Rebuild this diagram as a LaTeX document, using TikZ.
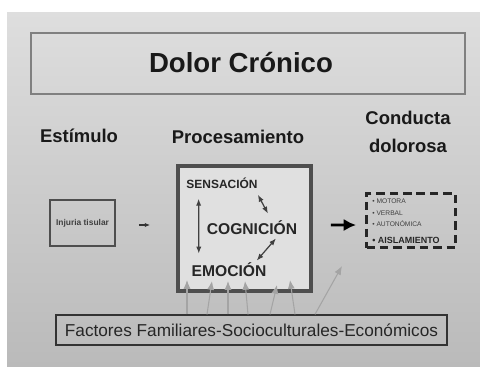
\documentclass[tikz,border=0pt]{standalone}
\usepackage{fontspec}
\setmainfont{Liberation Sans}
\usetikzlibrary{arrows.meta, calc}
\definecolor{bgtop}{HTML}{DEDEDE}
\definecolor{bgbot}{HTML}{BABABA}
\definecolor{framegray}{HTML}{4E4E4E}
\definecolor{boxfill}{HTML}{E0E0E0}
\definecolor{inflgray}{HTML}{A4A4A4}

\begin{document}
\begin{tikzpicture}[x=0.02cm, y=-0.02cm,
    heading/.style={font=\fontsize{10.5}{16}\selectfont\bfseries, inner sep=0pt, text=black!90},
    label/.style={font=\fontsize{8.9}{10}\selectfont\bfseries, inner sep=0pt, text=black!85},
    item/.style={font=\fontsize{3.8}{5}\selectfont, inner sep=0pt, anchor=west, text=black!75},
    rel/.style={<->, >={Latex[length=4pt,width=3pt]}, line width=0.7pt, black!75},
    infl/.style={->, >={Latex[length=5pt,width=4pt]}, line width=0.6pt, inflgray}]

    % Draw the slide background
    \useasboundingbox (0,0) rectangle (480,366);
    \fill[white] (0,0) rectangle (480,366);
    \shade[top color=bgtop, bottom color=bgbot] (7,12) rectangle (480,366);

    % Draw the title
    \draw[gray, line width=0.6pt] (31,33) rectangle (465,94);
    \node[font=\fontsize{15.7}{19}\selectfont\bfseries, text=black!90] (title) at (241,63) {Dolor Crónico};

    % Column headings
    \node[heading] (stim) at (79,136) {Estímulo};
    \node[heading] (proch) at (238,137) {Procesamiento};
    \node[heading, align=center] (condh) at (408,132) {Conducta\\dolorosa};

    % Draw the boxes
    \node[draw=framegray, line width=1.1pt, minimum width=1.18cm, minimum height=0.92cm,
          font=\fontsize{4.8}{6}\selectfont\bfseries, text=black!75] (inj) at (82.5,223) {Injuria tisular};
    \node[draw=framegray, fill=boxfill, line width=2.2pt, minimum width=2.66cm, minimum height=2.5cm] (proc) at (244.5,228.5) {};
    \node[draw=black!85, dash pattern=on 4.8pt off 2.8pt, line width=1.7pt, minimum width=1.78cm, minimum height=1.08cm] (cond) at (411,220.5) {};
    \node[draw=black!80, line width=0.8pt, minimum width=7.82cm, minimum height=0.6cm,
          font=\fontsize{9.8}{12}\selectfont, text=black!85] (fac) at (251.5,330) {Factores Familiares-Socioculturales-Económicos};

    % Processing labels
    \node[label, font=\fontsize{6.8}{8}\selectfont\bfseries] (sen) at (222,183) {SENSACIÓN};
    \node[label] (cog) at (252,228) {COGNICIÓN};
    \node[label] (emo) at (229,270) {EMOCIÓN};

    % Behaviour list
    \node[item] (mot) at (372,201) {\textbullet\ MOTORA};
    \node[item] (ver) at (372,213) {\textbullet\ VERBAL};
    \node[item] (aut) at (372,224) {\textbullet\ AUTONÓMICA};
    \node[item, font=\fontsize{5.1}{6}\selectfont\bfseries, text=black!85] (ais) at (372,240) {\textbullet\ AISLAMIENTO};

    % Draw the relations
    \draw[rel] ($(sen.south west)+(12.5,10)$) -- ($(emo.north west)+(7.5,-9)$);
    \draw[rel] ($(sen.south east)+(0,6)$) -- ($(cog.north)+(16,-7)$);
    \draw[rel] ($(cog.south)+(24,3)$) -- ($(emo.north east)+(-10,-2)$);

    % Draw the flow arrows
    \draw[->, >={Latex[length=3pt,width=2.5pt]}, line width=0.6pt, black!80]
        ($(inj.east)+(23,2)$) -- ($(proc.west)+(-26,-3.5)$);
    \draw[->, >={Latex[length=7pt,width=7pt]}, line width=1.6pt, black]
        ($(proc.east)+(18,-3.5)$) -- ($(cond.west)+(-9,4.5)$);

    % Draw the influences
    \foreach \bx/\tx/\ty in {187/187/280, 207/212/281, 228/228/281, 248/245/281, 270/277/285, 295/290/280, 315/342/266}
        \draw[infl] (\bx,0 |- fac.north) -- (\tx,\ty);
\end{tikzpicture}
\end{document}
